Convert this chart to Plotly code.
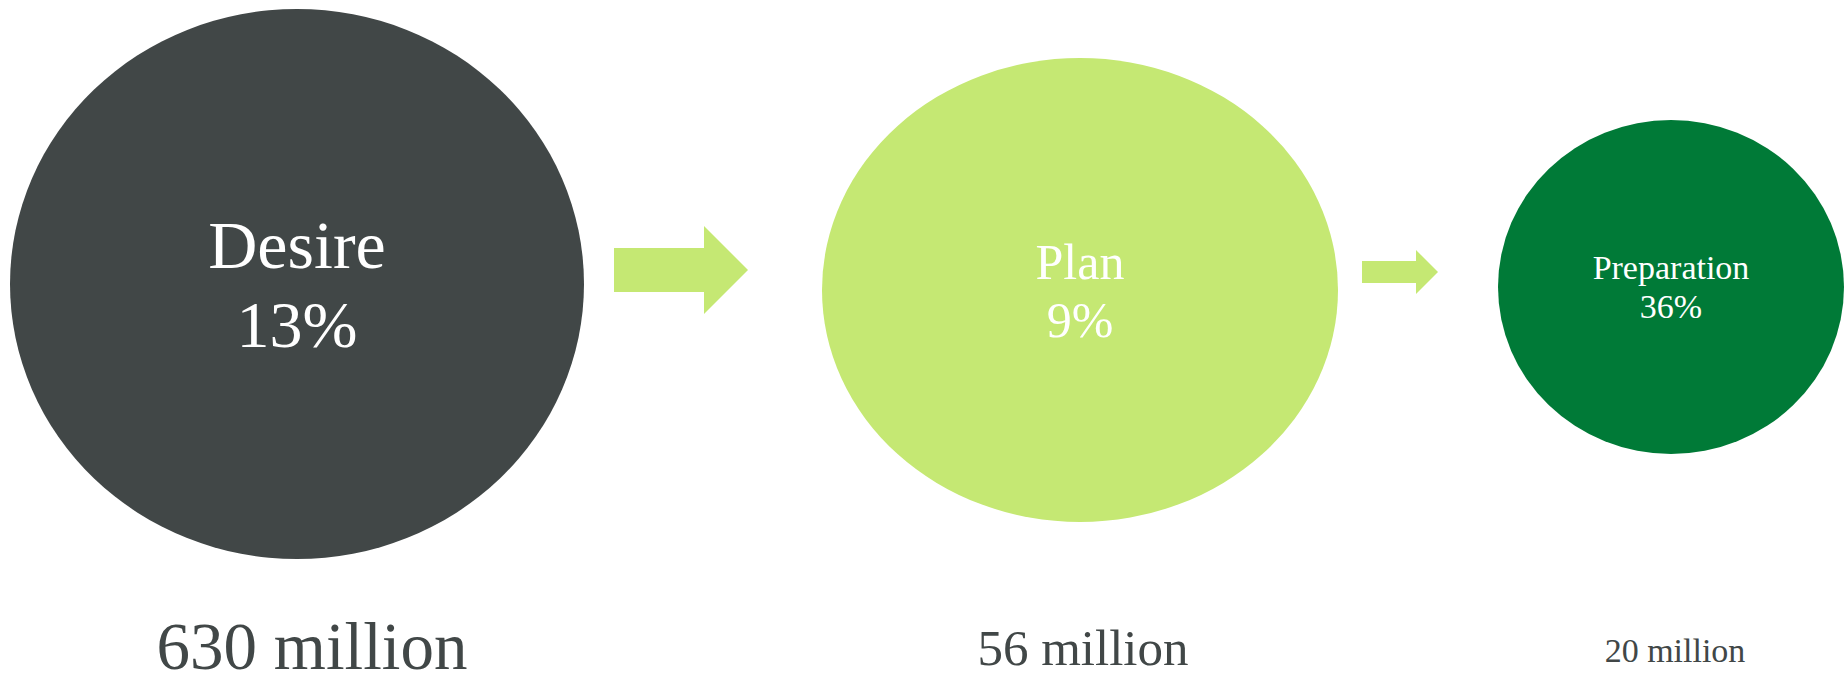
import plotly.graph_objects as go

# ---- data ----
stages = ["Desire", "Plan", "Preparation"]
shares = ["13%", "9%", "36%"]
populations = ["630 million", "56 million", "20 million"]

# ---- layout / style config (pixel-like data units) ----
W, H = 1847, 686
centers_x = [297, 1080, 1671]
centers_y = [284, 290, 287]
radii_x = [287, 258, 173]
radii_y = [275, 232, 167]
fills = ["#414747", "#C5E873", "#007A37"]
name_sizes = [68, 50, 34]
share_sizes = [66, 50, 34]
pop_sizes = [67, 51, 34]
pop_x = [312, 1083, 1675]
name_baselines = [269, 279, 279]
share_baselines = [348, 337, 318]
pop_baselines = [670, 666, 662]
label_color = "#414747"
arrow_color = "#C5E873"
# arrows: (x_left, x_head_base, x_tip, y_mid, shaft_half, head_half)
arrows = [
    (614, 704, 748, 270, 22, 44),
    (1362, 1416, 1438, 272, 11, 22),
]
FONT = "Liberation Serif, DejaVu Serif, serif"
MID_SHIFT = 0.26

fig = go.Figure()

shapes = []
for cx, cy, rx, ry, c in zip(centers_x, centers_y, radii_x, radii_y, fills):
    shapes.append(dict(type="circle", xref="x", yref="y",
                       x0=cx - rx, x1=cx + rx, y0=cy - ry, y1=cy + ry,
                       fillcolor=c, line=dict(width=0), layer="below"))
for (xl, xb, xt, ym, sh, hh) in arrows:
    path = (f"M {xl},{ym-sh} L {xb},{ym-sh} L {xb},{ym-hh} L {xt},{ym} "
            f"L {xb},{ym+hh} L {xb},{ym+sh} L {xl},{ym+sh} Z")
    shapes.append(dict(type="path", xref="x", yref="y", path=path,
                       fillcolor=arrow_color, line=dict(width=0), layer="below"))

for i in range(len(stages)):
    fig.add_trace(go.Scatter(
        x=[centers_x[i]], y=[name_baselines[i] - MID_SHIFT * name_sizes[i]],
        text=[stages[i]], mode="text", textposition="middle center",
        textfont=dict(family=FONT, size=name_sizes[i], color="#FFFFFF"),
        hoverinfo="skip", showlegend=False))
    fig.add_trace(go.Scatter(
        x=[centers_x[i]], y=[share_baselines[i] - MID_SHIFT * share_sizes[i]],
        text=[shares[i]], mode="text", textposition="middle center",
        textfont=dict(family=FONT, size=share_sizes[i], color="#FFFFFF"),
        hoverinfo="skip", showlegend=False))
    fig.add_trace(go.Scatter(
        x=[pop_x[i]], y=[pop_baselines[i] - MID_SHIFT * pop_sizes[i]],
        text=[populations[i]], mode="text", textposition="middle center",
        textfont=dict(family=FONT, size=pop_sizes[i], color=label_color),
        hoverinfo="skip", showlegend=False))

fig.update_layout(
    width=W, height=H, autosize=False,
    margin=dict(l=0, r=0, t=0, b=0, pad=0),
    paper_bgcolor="white", plot_bgcolor="white",
    shapes=shapes,
    xaxis=dict(range=[0, W], visible=False, fixedrange=True),
    yaxis=dict(range=[H, 0], visible=False, fixedrange=True),
)

fig.write_html("out.html", config={"displayModeBar": False})
